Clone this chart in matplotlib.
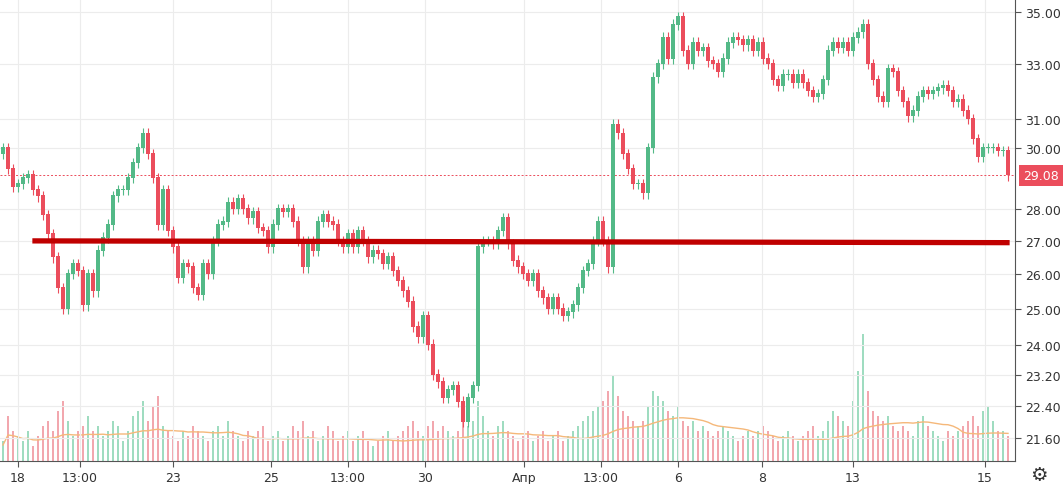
import numpy as np
import pandas as pd
import matplotlib
matplotlib.use("Agg")
import matplotlib.pyplot as plt

# close prices, hourly candles, read left to right
closes = [
    30.0, 29.3, 28.7, 28.8, 29.0, 29.1, 28.6, 28.4, 27.8, 27.2,
    26.5, 25.6, 25.0, 26.0, 26.3, 26.1, 25.1, 26.0, 25.5, 26.7,
    27.1, 27.5, 28.4, 28.6, 28.6, 29.0, 29.5, 30.0, 30.5, 29.8,
    29.0, 27.5, 28.6, 27.3, 26.8, 25.9, 26.3, 26.2, 25.6, 25.4,
    26.3, 26.0, 27.0, 27.5, 27.6, 28.2, 28.0, 28.3, 28.0, 27.7,
    27.9, 27.4, 27.3, 26.8, 27.5, 28.0, 27.9, 28.0, 27.6, 27.0,
    26.2, 27.0, 26.7, 27.6, 27.8, 27.6, 27.5, 27.0, 26.8, 27.2,
    26.8, 27.3, 27.0, 26.5, 26.7, 26.6, 26.3, 26.5, 26.1, 25.8,
    25.5, 25.2, 24.5, 24.2, 24.8, 24.0, 23.2, 23.0, 22.6, 22.8,
    22.9, 22.5, 22.0, 22.6, 22.9, 26.8, 27.0, 27.0, 26.9, 27.3,
    27.7, 26.9, 26.4, 26.2, 26.0, 25.8, 26.0, 25.5, 25.3, 25.0,
    25.3, 25.0, 24.8, 24.9, 25.1, 25.6, 26.1, 26.3, 27.0, 27.6,
    27.0, 26.2, 30.8, 30.5, 29.8, 29.3, 28.8, 28.8, 28.5, 30.0,
    32.5, 33.0, 34.0, 33.2, 34.5, 34.8, 33.5, 33.0, 33.8, 33.5,
    33.6, 33.1, 33.0, 32.7, 33.2, 33.8, 34.0, 33.9, 33.7, 33.9,
    33.5, 33.8, 33.2, 33.0, 32.4, 32.2, 32.6, 32.6, 32.3, 32.6,
    32.3, 32.0, 31.8, 31.9, 32.4, 33.5, 33.8, 33.6, 33.8, 33.5,
    34.0, 34.2, 34.5, 33.0, 32.4, 31.8, 31.6, 32.8, 32.7, 32.0,
    31.6, 31.1, 31.3, 31.8, 32.0, 31.9, 32.0, 32.1, 32.2, 32.0,
    31.6, 31.7, 31.3, 31.0, 30.3, 29.7, 30.0, 30.0, 30.0, 29.9,
    29.9, 29.08,
]
first_open = 29.8

volumes = [
    20, 45, 30, 25, 20, 30, 15, 25, 35, 40,
    30, 50, 60, 40, 25, 30, 35, 45, 30, 35,
    25, 30, 40, 35, 20, 30, 45, 50, 60, 40,
    55, 65, 35, 30, 25, 20, 30, 25, 35, 30,
    25, 20, 30, 35, 25, 40, 30, 25, 20, 30,
    25, 30, 35, 20, 25, 30, 20, 25, 35, 30,
    40, 25, 30, 20, 25, 35, 30, 20, 25, 30,
    20, 25, 30, 20, 15, 20, 25, 30, 20, 25,
    30, 35, 40, 30, 25, 35, 40, 30, 35, 30,
    25, 30, 45, 35, 40, 60, 45, 30, 25, 35,
    40, 30, 25, 20, 25, 30, 20, 25, 30, 20,
    25, 30, 20, 25, 30, 35, 40, 45, 50, 55,
    60, 70, 85, 65, 50, 45, 40, 35, 40, 55,
    70, 65, 60, 50, 45, 55, 40, 35, 40, 30,
    35, 30, 25, 30, 35, 30, 25, 20, 25, 30,
    25, 30, 35, 30, 25, 20, 25, 30, 25, 20,
    25, 30, 35, 25, 30, 40, 50, 45, 40, 35,
    60, 90, 127, 70, 50, 45, 40, 45, 35, 30,
    35, 30, 25, 40, 45, 35, 30, 25, 20, 30,
    25, 30, 35, 40, 45, 35, 50, 55, 40, 30,
    30, 25,
]

x_tick_pos = [3, 15.4, 34, 53.6, 69, 84.4, 104.2, 119.6, 135, 151.8, 170, 196.4]
x_tick_labels = ["18", "13:00", "23", "25", "13:00", "30", "Апр", "13:00", "6", "8", "13", "15"]
y_ticks = [35.0, 33.0, 31.0, 30.0, 28.0, 27.0, 26.0, 25.0, 24.0, 23.2, 22.4, 21.6]
level = 27.0
last_price = 29.08

UP, DOWN = "#53b987", "#eb4d5c"

c = np.array(closes)
o = np.concatenate([[first_open], c[:-1]])
hi = np.maximum(o, c) * 1.006
lo = np.minimum(o, c) * 0.994
idx = np.arange(len(c))
cols = [UP if cc >= oo else DOWN for oo, cc in zip(o, c)]

fig = plt.figure(figsize=(10.63, 4.85), dpi=100)
fig.patch.set_facecolor("white")
ax = fig.add_axes([0, 1 - 462 / 485, 1015 / 1063, 462 / 485])
ax.set_yscale("log")
ax.set_ylim(35 * np.exp(-449 / 882), 35 * np.exp(13 / 882))
ax.set_xlim(-0.6, 1015 / 5 - 0.6)

# volume on its own axis, drawn first
vax = ax.twinx()
vax.set_ylim(0, 462)
vcols = ["#9fdcc0" if col == UP else "#f2a7ae" for col in cols]
vax.bar(idx, volumes, width=0.5, color=vcols, zorder=1)
ma = pd.Series(volumes).rolling(20, min_periods=1).mean() * 0.8
vax.plot(idx, ma, color="#f5b87a", lw=1.0, zorder=2)
vax.set_yticks([])
vax.set_zorder(0)
ax.set_zorder(1)
ax.patch.set_visible(False)

ax.vlines(idx, lo, hi, colors=cols, lw=0.8, zorder=3)
ax.bar(idx, np.abs(c - o) + 0.03, bottom=np.minimum(o, c), width=0.7, color=cols, zorder=4)

ax.plot([6.4, 200.8], [level, level * 0.998], color="#c00000", lw=3.8, zorder=5)
ax.axhline(last_price, color="#eb4d5c", lw=0.7, ls=(0, (2, 2)), zorder=2)

ax.set_yticks(y_ticks)
ax.set_yticks([], minor=True)
ax.yaxis.tick_right()
ax.set_yticklabels([f"{v:.2f}" for v in y_ticks], fontsize=9, color="#333333")
ax.set_xticks(x_tick_pos)
ax.set_xticklabels(x_tick_labels, fontsize=9, color="#333333")
ax.grid(True, color="#ececec", lw=0.8, zorder=0)
ax.tick_params(length=4, color="#555555", pad=3)
for s in ["top", "left"]:
    ax.spines[s].set_visible(False)
ax.spines["right"].set_color("#555555")
ax.spines["bottom"].set_color("#555555")
vax.axis("off")

ax.annotate(f"{last_price:.2f}", xy=(1.0, last_price), xycoords=("axes fraction", "data"),
            xytext=(6, 0), textcoords="offset points", va="center", ha="left",
            fontsize=9, color="white",
            bbox=dict(boxstyle="square,pad=0.35", fc="#eb4d5c", ec="none"))
fig.text(1039 / 1063, 1 - 476 / 485, "\u2699", fontsize=14, ha="center", va="center", color="#333333")

plt.savefig("out.png", dpi=100)
